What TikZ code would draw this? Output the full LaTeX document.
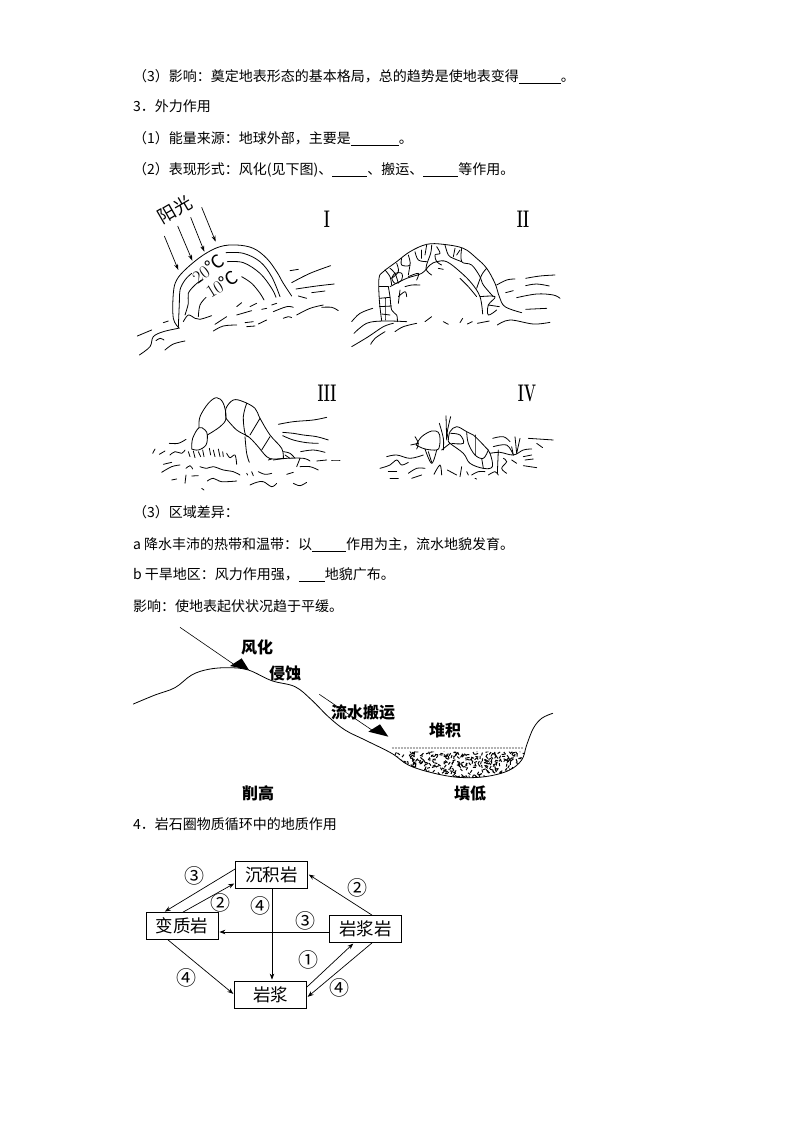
\documentclass[tikz,border=0pt]{standalone}
\usepackage{fontspec}
\usetikzlibrary{arrows.meta}
\newfontfamily\cjk{Noto Sans CJK SC}
\newcommand{\blank}[1]{\rule[-2pt]{#1pt}{.7pt}}
\newcommand{\sk}[1]{\draw[sketch] plot[smooth,tension=.6] coordinates {#1};}
\tikzset{
    textline/.style={anchor=west,inner sep=0pt,text height=12pt,text depth=3pt,font=\fontsize{14}{14}\selectfont\cjk},
    sketch/.style={line width=.8pt,line cap=round,line join=round},
    sunray/.style={line width=.7pt,-{Stealth[length=6pt,width=4pt]}},
    numeral/.style={inner sep=0pt,xscale=.6,font=\fontsize{24}{24}\selectfont\bfseries},
    boldlabel/.style={inner sep=0pt,font=\fontsize{16}{16}\selectfont\cjk\bfseries},
    rockbox/.style={draw,line width=.8pt,inner sep=0pt,minimum width=72pt,minimum height=27pt,font=\fontsize{17.5}{18}\selectfont\cjk},
    circled/.style={inner sep=0pt,font=\fontsize{20}{20}\selectfont\cjk},
    link/.style={line width=.7pt,-{Stealth[length=6pt,width=4.5pt]},shorten >=1pt}
}
\begin{document}
\begin{tikzpicture}[x=1pt,y=-1pt]
    \useasboundingbox (0,0) rectangle (794,1123);

    % text lines
    \node[textline] at (133,77) (t1) {（3）影响：奠定地表形态的基本格局，总的趋势是使地表变得\blank{42}。};
    \node[textline] at (133,107) (t2) {3．外力作用};
    \node[textline] at (133,139) (t3) {（1）能量来源：地球外部，主要是\blank{48}。};
    \node[textline] at (133,170) (t4) {（2）表现形式：风化(见下图)、\blank{35}、搬运、\blank{35}等作用。};
    \node[textline] at (133,513) (t5) {（3）区域差异：};
    \node[textline] at (133,545) (t6) {a 降水丰沛的热带和温带：以\blank{34}作用为主，流水地貌发育。};
    \node[textline] at (133,575) (t7) {b 干旱地区：风力作用强，\blank{26}地貌广布。};
    \node[textline] at (133,607) (t8) {影响：使地表起伏状况趋于平缓。};
    \node[textline] at (133,825) (t9) {4．岩石圈物质循环中的地质作用};

    % sketch I
    \node[numeral] at (327,219) (numI) {I};
    \node[numeral] at (523,219) (numII) {II};
    \node[numeral] at (327,393) (numIII) {III};
    \node[numeral] at (527,393) (numIV) {IV};
    \node[inner sep=0pt,rotate=30,font=\fontsize{18}{18}\selectfont\cjk] at (175,210) (sun) {阳光};
    \node[inner sep=0pt,rotate=36,font=\fontsize{18}{18}\selectfont] at (208,269) (hot) {20{\cjk ℃}};
    \node[inner sep=0pt,rotate=32,font=\fontsize{18}{18}\selectfont] at (222,284) (cold) {10{\cjk ℃}};
    \begin{scope}[shift={(120,190)},scale=1/3]
        \draw[sunray] (133,138) -- (175,240);
        \draw[sunray] (173,108) -- (217,212);
        \draw[sunray] (212,82) -- (253,185);
        \draw[sunray] (245,52) -- (287,155);
        \sk{(178,415) (160,385) (160,310) (170,270) (200,235) (250,195) (300,170) (350,165) (400,175) (440,205) (470,245) (490,280) (515,318)}
        \sk{(175,410) (178,340) (180,300) (195,270) (215,250)}
        \sk{(318,188) (370,190) (420,215) (455,260) (480,320)}
        \sk{(322,215) (370,218) (420,250) (455,295) (468,322)}
        \sk{(195,375) (205,340) (205,310) (225,285) (245,270)}
        \sk{(365,260) (395,280) (420,310) (432,330)}
        \sk{(235,380) (240,345) (258,322)}
        \sk{(52,438) (95,420)} \sk{(130,398) (145,393)}
        \sk{(58,495) (90,470) (100,440) (130,425) (175,415)}
        \sk{(108,452) (120,445) (132,450)} \sk{(135,480) (160,462) (195,453)}
        \sk{(190,395) (205,375) (225,385) (240,388) (275,377)}
        \sk{(285,403) (320,380)} \sk{(280,423) (310,408) (350,405)}
        \sk{(350,375) (395,362)} \sk{(350,350) (365,338)} \sk{(390,350) (410,340)}
        \sk{(425,358) (440,355)} \sk{(455,345) (470,340)} \sk{(375,398) (400,395)}
        \sk{(380,410) (405,408)} \sk{(415,402) (440,390)}
        \sk{(460,365) (500,350) (520,352)} \sk{(490,385) (505,380) (515,383)}
        \sk{(530,375) (570,355) (610,345)} \sk{(605,352) (635,352) (655,362)}
        \sk{(535,318) (560,325)} \sk{(510,242) (535,238)}
        \sk{(515,278) (570,250) (632,227)} \sk{(528,297) (590,288) (643,282)}
        \sk{(575,308) (615,303)}
    \end{scope}

    % sketch II
    \begin{scope}[shift={(340,190)},scale=1/3]
        \sk{(125,392) (118,330) (117,265) (130,245) (170,215) (210,185) (260,163) (310,163) (370,175) (410,205) (440,235) (465,280) (478,320) (495,350) (545,368)}
        \sk{(172,395) (170,375) (155,360) (150,320) (145,290)}
        \sk{(150,290) (200,265) (245,250) (270,225) (290,215) (320,215) (360,245) (395,280) (420,320) (428,372)}
        \sk{(118,290) (145,290)} \sk{(118,325) (150,322)} \sk{(118,350) (155,348)}
        \sk{(135,325) (135,390)} \sk{(150,375) (125,372)}
        \sk{(135,240) (150,260) (155,285)} \sk{(150,235) (165,250) (175,280)}
        \sk{(170,220) (175,245) (155,265)}
        \sk{(185,205) (185,225) (210,225) (205,195)} \sk{(210,225) (205,255)}
        \sk{(225,185) (235,210) (260,215)} \sk{(245,180) (245,205)} \sk{(260,165) (255,195)}
        \sk{(275,165) (272,190) (258,235) (275,255)}
        \sk{(290,170) (300,190) (285,195) (290,215) (305,225)}
        \sk{(315,165) (325,195) (340,205) (365,215)} \sk{(345,175) (340,200)} \sk{(360,180) (350,195)}
        \sk{(365,175) (365,215) (395,225) (420,260) (430,285) (460,320)}
        \sk{(440,235) (425,255) (410,295)} \sk{(360,265) (385,290) (410,320)}
        \sk{(420,320) (465,320) (445,345) (445,375) (470,360)} \sk{(445,345) (478,350)}
        \sk{(155,265) (165,250) (185,250) (185,270) (165,280) (155,265)}
        \sk{(180,300) (175,340)} \sk{(175,320) (195,305) (200,320)}
        \sk{(195,290) (215,285) (240,285)} \sk{(205,260) (235,250) (230,270)}
        \sk{(295,235) (310,238)}
        \sk{(35,395) (60,370) (98,355)} \sk{(42,430) (80,400) (130,393) (200,395)}
        \sk{(35,470) (85,440) (130,410) (160,400)} \sk{(92,463) (105,445) (135,425)}
        \sk{(165,425) (190,410) (230,400)} \sk{(255,395) (275,380)}
        \sk{(310,395) (325,403)} \sk{(360,398) (368,385)} \sk{(382,402) (397,395)}
        \sk{(412,400) (448,393)} \sk{(472,405) (510,390) (580,402) (630,397)}
        \sk{(470,285) (500,270) (525,267)} \sk{(497,308) (520,302)}
        \sk{(557,265) (600,258) (645,255)} \sk{(557,287) (590,282) (628,288)}
        \sk{(530,323) (590,312) (640,315) (660,325)} \sk{(557,358) (620,355)}
    \end{scope}

    % sketch III
    \begin{scope}[shift={(130,375)},scale=1/3]
        \sk{(185,222) (188,190) (207,158) (225,165) (232,180) (228,210) (205,225) (185,222)}
        \sk{(207,158) (210,125) (235,85) (260,68) (280,85) (288,130) (270,155) (232,180)}
        \sk{(288,130) (288,100) (310,75) (340,80) (375,100) (390,130) (420,180) (455,220) (460,250)}
        \sk{(288,130) (320,165) (355,185) (380,210) (410,245) (430,252) (460,250)}
        \sk{(350,85) (340,125) (345,175) (355,185)} \sk{(390,130) (360,180)}
        \sk{(420,185) (395,225)} \sk{(345,185) (350,235) (358,262)}
        \sk{(460,230) (480,235) (495,250)} \sk{(465,240) (480,250)}
        \sk{(175,230) (180,245)} \sk{(190,228) (195,248)} \sk{(205,230) (212,245)}
        \sk{(218,225) (222,245)} \sk{(238,220) (242,240)} \sk{(250,225) (255,245)}
        \sk{(265,222) (270,245)} \sk{(278,230) (280,245)}
        \sk{(290,235) (300,248) (315,240) (320,268)}
        \sk{(68,235) (75,222)} \sk{(88,238) (105,228)}
        \sk{(120,240) (135,230) (155,235) (165,225)} \sk{(118,205) (145,205) (168,193)}
        \sk{(100,268) (125,262)} \sk{(95,292) (125,275) (150,270)}
        \sk{(168,280) (180,272) (188,282)}
        \sk{(210,275) (230,280) (250,275) (280,285) (310,290) (330,300)}
        \sk{(125,315) (140,312)} \sk{(165,325) (168,300)} \sk{(185,303) (205,302)}
        \sk{(232,318) (250,310) (275,320) (320,318)} \sk{(215,340) (222,345)}
        \sk{(350,295) (353,300)} \sk{(365,290) (370,302)} \sk{(385,290) (405,298) (425,295)}
        \sk{(360,330) (380,322) (400,320) (425,335) (440,325)}
        \sk{(470,298) (490,292)} \sk{(490,325) (510,332) (530,322)}
        \sk{(445,148) (490,140) (550,135) (590,127)}
        \sk{(458,172) (490,175) (520,180) (560,185) (595,195)}
        \sk{(458,182) (490,195) (530,203) (565,205)}
        \sk{(512,230) (550,225) (585,232)} \sk{(510,275) (540,275) (565,285)}
        \sk{(430,255) (470,250) (520,250) (540,258)} \sk{(560,258) (590,255)}
        \sk{(605,255) (630,255)} \sk{(415,255) (425,252)} \sk{(500,275) (510,250)}
    \end{scope}

    % sketch IV
    \begin{scope}[shift={(360,375)},scale=1/3]
        \sk{(168,210) (185,185) (215,168) (235,172) (240,190) (238,215) (230,225) (195,222) (168,210)}
        \sk{(195,222) (215,265) (230,225)} \sk{(205,230) (215,262)}
        \sk{(152,210) (175,205)} \sk{(165,185) (175,205) (170,222)}
        \sk{(238,145) (250,190) (250,225)} \sk{(258,122) (260,195)} \sk{(272,125) (262,170) (265,190)}
        \sk{(265,195) (270,170) (290,155) (320,170) (340,180) (375,215) (390,235) (397,275) (370,280) (330,265) (310,235) (270,205) (265,195)}
        \sk{(245,225) (270,205)}
        \sk{(272,175) (300,180) (310,205) (275,205)}
        \sk{(320,170) (325,205) (345,240) (370,250) (385,225)}
        \sk{(345,180) (345,240)} \sk{(365,250) (370,280)}
        \sk{(398,190) (430,185) (450,200)}
        \sk{(400,215) (440,210) (460,240)} \sk{(455,215) (460,240)} \sk{(465,185) (470,235)} \sk{(480,190) (470,235)}
        \sk{(390,235) (420,232) (460,240) (490,225) (515,222)}
        \sk{(415,225) (412,295)} \sk{(430,250) (440,260) (425,280) (440,295)}
        \sk{(455,255) (470,265)} \sk{(505,190) (580,195)} \sk{(530,205) (548,218)}
        \sk{(490,245) (515,240)} \sk{(495,255) (520,252)} \sk{(490,272) (530,278)}
        \sk{(80,245) (110,240) (150,250) (190,240)}
        \sk{(60,280) (90,270) (110,255) (125,270) (145,262)}
        \sk{(85,290) (110,290)} \sk{(145,295) (170,280) (195,280)}
        \sk{(90,310) (115,310)} \sk{(155,310) (185,300)}
        \sk{(222,298) (240,270) (245,300)} \sk{(262,285) (290,300)} \sk{(305,275) (300,305)}
        \sk{(320,290) (325,300)} \sk{(335,300) (355,290) (375,290)}
        \sk{(385,300) (405,290) (415,300)} \sk{(345,310) (350,312)}
    \end{scope}

    % slope
    \node[boldlabel] at (257,647) (weather) {风化};
    \node[boldlabel] at (285,673) (erode) {侵蚀};
    \node[boldlabel] at (363,712) (carry) {流水搬运};
    \node[boldlabel] at (445,730) (deposit) {堆积};
    \node[boldlabel] at (258,793) (cut) {削高};
    \node[boldlabel] at (470,793) (fill) {填低};
    \begin{scope}[shift={(125,620)},scale=1/3]
        \begin{scope}
            \clip plot[smooth,tension=.6] coordinates {(800,395) (850,435) (920,458) (1000,472) (1080,470) (1150,452) (1190,420) (1200,395)} -- cycle;
            \pgfmathsetseed{7}
            \foreach \i in {1,...,330}{
                \pgfmathsetmacro\gx{810+rnd*385}
                \pgfmathsetmacro\gy{395+rnd*78}
                \pgfmathsetmacro\ga{rnd*360}
                \draw[line width=1pt] (\gx,\gy) -- ++(\ga:9);
            }
        \end{scope}
        \draw[gray!60,line width=2.2pt,dash pattern=on .8pt off .7pt] (800,385) -- (1195,385);
        \sk{(25,252) (90,225) (150,203) (200,165) (250,148) (310,143) (370,150) (440,182) (510,200) (560,240) (610,290) (660,330) (720,360) (800,400) (850,435) (920,458) (1000,472) (1080,470) (1150,452) (1190,420) (1205,375) (1225,325) (1250,295) (1283,280)}
        \draw[line width=.6pt] (165,22) -- (325,132);
        \fill (315,138) -- (350,115) -- (372,150) -- cycle;
        \draw[line width=.6pt] (583,223) -- (745,333);
        \fill (730,335) -- (765,313) -- (790,350) -- cycle;
    \end{scope}

    % rock cycle
    \node[rockbox] at (271.5,875) (sediment) {沉积岩};
    \node[rockbox] at (182,926) (meta) {变质岩};
    \node[rockbox] at (365.5,929) (igneous) {岩浆岩};
    \node[rockbox] at (270.5,994.5) (magma) {岩浆};

    \draw[link] ([yshift=6pt]sediment.west) -- ([xshift=-18pt]meta.north);
    \draw[link] ([xshift=1pt]meta.north) -- ([yshift=-8pt]sediment.west);
    \draw[link] ([xshift=6.5pt]igneous.north) -- ([yshift=1pt]sediment.east);
    \draw[link] ([yshift=-3pt]igneous.west) -- ([yshift=-6pt]meta.east);
    \draw[link] ([xshift=.5pt]sediment.south) -- ([xshift=1.5pt]magma.north);
    \draw[link] ([xshift=-14pt]meta.south) -- (magma.west);
    \draw[link] ([yshift=7.5pt]magma.east) -- ([xshift=-11.5pt]igneous.south);
    \draw[link] ([xshift=6.5pt]igneous.south) -- ([yshift=-3pt]magma.east);

    \node[circled] at (194,876) (n1) {③};
    \node[circled] at (220,903) (n2) {②};
    \node[circled] at (260,906) (n3) {④};
    \node[circled] at (357,888) (n4) {②};
    \node[circled] at (305,921) (n5) {③};
    \node[circled] at (308,960) (n6) {①};
    \node[circled] at (339,988) (n7) {④};
    \node[circled] at (186,978) (n8) {④};
\end{tikzpicture}
\end{document}
